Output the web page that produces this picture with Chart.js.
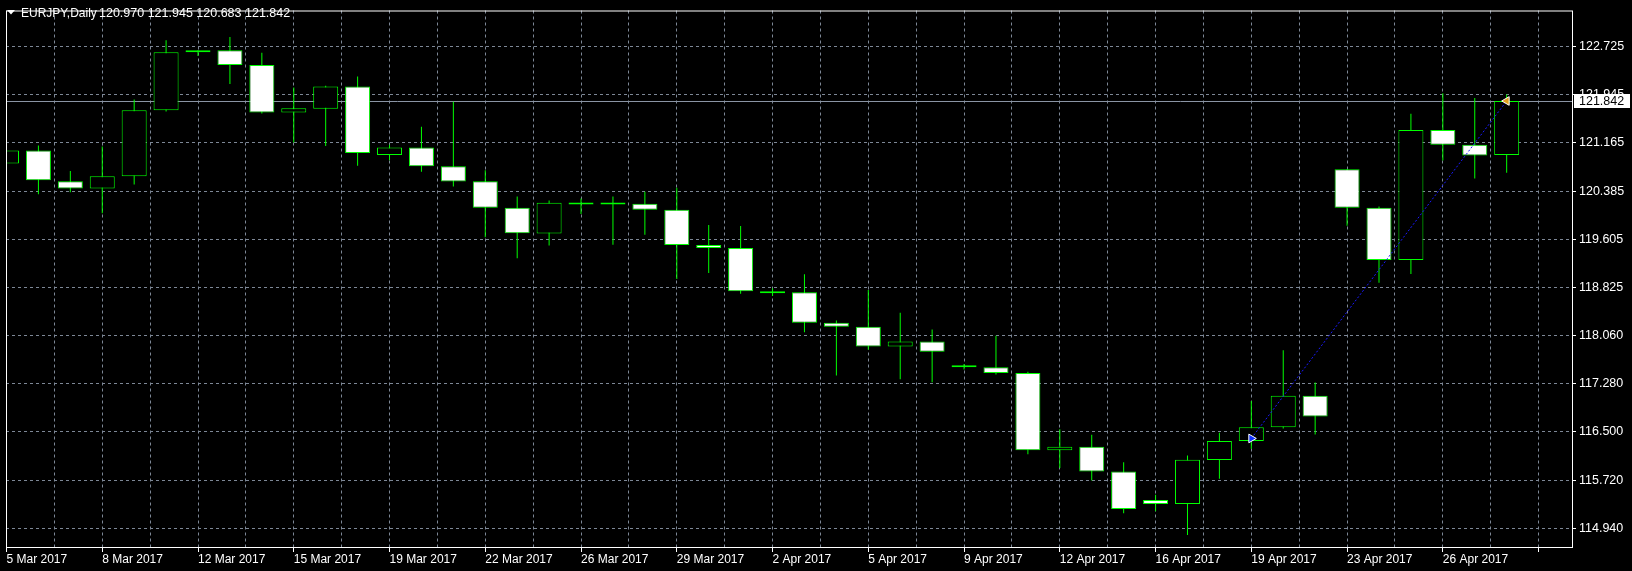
<!DOCTYPE html>
<html>
<head>
<meta charset="utf-8">
<script src="https://cdn.jsdelivr.net/npm/chart.js@4.4.1/dist/chart.umd.min.js"></script>
<style>
  html, body { margin: 0; padding: 0; background: #000; }
  canvas { display: block; }
</style>
</head>
<body>
<canvas id="eurjpy" width="1632" height="571"></canvas>
<script>
// EURJPY daily candles
const days = ['5 Mar 2017','6 Mar 2017','7 Mar 2017','8 Mar 2017','9 Mar 2017','10 Mar 2017',
  '12 Mar 2017','13 Mar 2017','14 Mar 2017','15 Mar 2017','16 Mar 2017','17 Mar 2017',
  '19 Mar 2017','20 Mar 2017','21 Mar 2017','22 Mar 2017','23 Mar 2017','24 Mar 2017',
  '26 Mar 2017','27 Mar 2017','28 Mar 2017','29 Mar 2017','30 Mar 2017','31 Mar 2017',
  '2 Apr 2017','3 Apr 2017','4 Apr 2017','5 Apr 2017','6 Apr 2017','7 Apr 2017',
  '9 Apr 2017','10 Apr 2017','11 Apr 2017','12 Apr 2017','13 Apr 2017','14 Apr 2017',
  '16 Apr 2017','17 Apr 2017','18 Apr 2017','19 Apr 2017','20 Apr 2017','21 Apr 2017',
  '23 Apr 2017','24 Apr 2017','25 Apr 2017','26 Apr 2017','27 Apr 2017','28 Apr 2017']

const opens  = [120.834,121.041,120.548,120.431,120.628,121.692,122.630,122.661,122.423,121.654,121.718,122.074,
  120.971,121.089,120.787,120.548,120.119,119.703,120.172,120.172,120.183,120.088,119.516,119.468,
  118.769,118.753,118.261,118.197,117.879,117.959,117.546,117.546,117.450,116.205,116.259,115.861,
  115.401,115.337,116.046,116.354,116.576,117.085,120.739,120.119,119.277,121.375,121.136,120.970]
const highs  = [121.109,121.125,120.712,121.109,121.867,122.820,122.661,122.873,122.619,122.058,122.089,122.237,
  121.136,121.427,121.829,120.723,120.299,120.235,120.267,120.299,120.378,120.442,119.838,119.822,
  118.821,119.044,118.297,118.790,118.424,118.154,117.598,118.054,117.471,116.545,116.454,116.009,
  115.485,116.120,116.486,116.999,117.820,117.296,120.739,120.140,121.634,121.967,121.888,121.945]
const lows   = [120.749,120.335,120.367,120.029,120.494,121.670,122.566,122.115,121.638,121.173,121.114,120.796,
  120.887,120.701,120.462,119.643,119.303,119.509,120.018,119.520,119.684,118.969,119.064,118.731,
  118.694,118.111,117.412,117.825,117.349,117.301,117.507,117.428,116.141,115.919,115.718,115.188,
  115.220,114.838,115.744,116.227,116.554,116.459,119.827,118.906,119.049,120.882,120.590,120.683]
const closes = [121.041,120.564,120.431,120.628,121.692,122.630,122.661,122.423,121.654,121.724,122.074,121.003,
  121.089,120.787,120.542,120.119,119.706,120.199,120.172,120.172,120.088,119.516,119.468,118.769,
  118.737,118.261,118.197,117.879,117.959,117.793,117.546,117.450,116.205,116.259,115.861,115.258,
  115.337,116.052,116.354,116.576,117.085,116.751,120.119,119.277,121.375,121.136,120.961,121.842]

// price ticks as printed on the right axis
const yTicks = [114.940,115.720,116.500,117.280,118.060,118.825,119.605,120.385,121.165,121.945,122.725]

// trade arrows: open on 19 Apr, closed on 28 Apr
const tradeAt = [39, 47]
const tradePrice = [116.395, 121.842]

const gridColor = '#7d8796'
const lime = '#00ff00'
const numFont = {family: '"Liberation Sans", Arial, sans-serif', size: 12.5}
const dateFont = {family: '"Liberation Sans", Arial, sans-serif', size: 12}

const bodies = days.map((d, i) => ({x: i, y: [opens[i], closes[i]]}))
const wicks = days.map((d, i) => ({x: i, y: [lows[i], highs[i]]}))
const bodyFill = days.map((d, i) => closes[i] >= opens[i] ? '#000000' : '#ffffff')
const trade = tradeAt.map((x, i) => ({x: x, y: tradePrice[i]}))

const mtPlugin = {
  id: 'mt',
  beforeDatasetsDraw(chart) {
    // bid line at last close
    const {ctx, chartArea} = chart
    const y = Math.round(chart.scales.y.getPixelForValue(closes[closes.length - 1])) + 0.5
    ctx.save()
    ctx.strokeStyle = '#8a94a4'
    ctx.lineWidth = 1
    ctx.beginPath()
    ctx.moveTo(chartArea.left, y)
    ctx.lineTo(chartArea.right, y)
    ctx.stroke()
    ctx.restore()
  },
  afterDraw(chart) {
    const {ctx, chartArea} = chart
    ctx.save()
    // frame
    ctx.strokeStyle = '#ffffff'
    ctx.lineWidth = 1
    ctx.strokeRect(chartArea.left + 0.5, chartArea.top + 0.5,
      chartArea.right - chartArea.left, chartArea.bottom - chartArea.top)
    // bid label box
    const last = closes[closes.length - 1]
    const y = chart.scales.y.getPixelForValue(last)
    ctx.fillStyle = '#ffffff'
    ctx.fillRect(chartArea.right + 2, Math.round(y) - 7, 56, 14)
    ctx.fillStyle = '#000000'
    ctx.font = '12.5px "Liberation Sans", Arial, sans-serif'
    ctx.textBaseline = 'middle'
    ctx.textAlign = 'left'
    ctx.fillText(last.toFixed(3), chartArea.right + 7, Math.round(y) + 0.5)
    // header
    ctx.fillStyle = '#ffffff'
    ctx.beginPath()
    ctx.moveTo(7, 10); ctx.lineTo(15, 10); ctx.lineTo(11, 14.5); ctx.closePath()
    ctx.fill()
    ctx.textBaseline = 'alphabetic'
    ctx.font = '12px "Liberation Sans", Arial, sans-serif'
    ctx.fillText('EURJPY,Daily', 21, 17)
    const n = closes.length - 1
    ctx.font = '12.5px "Liberation Sans", Arial, sans-serif'
    ctx.fillText([opens[n], highs[n], lows[n], closes[n]].map(v => v.toFixed(3)).join(' '), 99, 17)
    ctx.restore()
  }
}

new Chart(document.getElementById('eurjpy'), {
  type: 'bar',
  data: {
    datasets: [
      {
        type: 'line',
        data: trade,
        order: 0,
        borderColor: '#1a1aff',
        borderWidth: 1,
        borderDash: [2, 2],
        pointStyle: 'triangle',
        pointRotation: [90, -90],
        pointRadius: 5,
        pointBackgroundColor: ['#1030ff', '#e0a020'],
        pointBorderColor: '#ffffff',
        pointBorderWidth: 1
      },
      {
        data: bodies,
        order: 1,
        grouped: false,
        barThickness: 25,
        minBarLength: 2,
        backgroundColor: bodyFill,
        borderColor: lime,
        borderWidth: 1,
        borderSkipped: false,
        inflateAmount: 0
      },
      {
        data: wicks,
        order: 2,
        grouped: false,
        barThickness: 1,
        backgroundColor: lime,
        borderWidth: 0,
        inflateAmount: 0
      }
    ]
  },
  options: {
    responsive: false,
    animation: false,
    devicePixelRatio: 1,
    layout: {padding: {left: 2, top: 2, right: 0, bottom: 0}},
    plugins: {legend: {display: false}, tooltip: {enabled: false}},
    scales: {
      x: {
        type: 'linear',
        min: -0.015625,
        max: 49.046875,
        offset: false,
        afterBuildTicks: (s) => {
          const t = []
          for (let v = 0; v <= 48; v += 1.5) t.push({value: v})
          s.ticks = t
        },
        afterFit: (s) => { s.height = 24 },
        grid: {
          offset: false,
          color: gridColor,
          tickLength: 5,
          tickColor: (c) => (c.tick && c.tick.value % 3 === 0) ? '#ffffff' : 'rgba(0,0,0,0)',
          tickBorderDash: []
        },
        border: {display: false, dash: [3, 3]},
        ticks: {
          color: '#ffffff',
          font: dateFont,
          align: 'start',
          padding: 0,
          autoSkip: false,
          maxRotation: 0,
          callback: (v) => (Number.isInteger(v) && v % 3 === 0 && days[v]) ? days[v] : ''
        }
      },
      y: {
        type: 'linear',
        position: 'right',
        min: 114.643,
        max: 123.302,
        afterBuildTicks: (s) => { s.ticks = yTicks.map(v => ({value: v})) },
        afterFit: (s) => { s.width = 60 },
        grid: {
          color: gridColor,
          tickLength: 4,
          tickColor: '#ffffff',
          tickBorderDash: []
        },
        border: {display: false, dash: [3, 3]},
        ticks: {
          color: '#ffffff',
          font: numFont,
          padding: 3,
          callback: (v) => v.toFixed(3)
        }
      }
    }
  },
  plugins: [mtPlugin]
})
</script>
</body>
</html>
